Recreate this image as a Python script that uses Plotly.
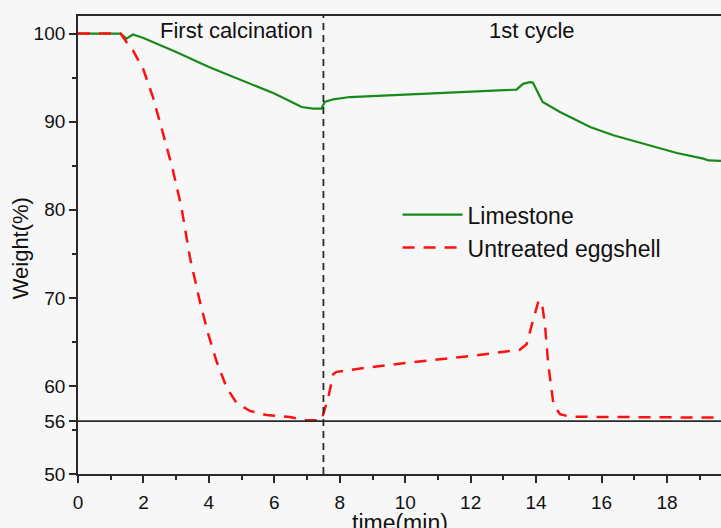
import plotly.graph_objects as go

# Limestone (green solid)
lime_t = [0, 1.3, 1.48, 1.68, 2.0, 3.0, 4.0, 5.0, 6.0, 6.73, 6.83, 7.19, 7.44, 7.54, 7.8, 8.31, 8.61,
          10.0, 12.0, 13.4, 13.6, 13.81, 13.9, 14.2, 14.73, 15.65, 16.36, 17.28, 18.3, 19.11, 19.27, 19.65]
lime_w = [100, 100, 99.43, 99.9, 99.5, 97.9, 96.2, 94.7, 93.2, 91.86, 91.67, 91.49, 91.49, 92.24, 92.54, 92.8, 92.85,
          93.05, 93.35, 93.64, 94.3, 94.5, 94.45, 92.24, 91.1, 89.4, 88.46, 87.5, 86.45, 85.81, 85.6, 85.54]

# Untreated eggshell (red dashed)
egg_t = [0, 1.3, 1.48, 1.68, 1.99, 2.29, 2.6, 2.9, 3.16, 3.42, 3.72, 3.98, 4.23, 4.54, 4.84, 5.25, 5.76,
         6.47, 6.98, 7.44, 7.65, 7.8, 7.9, 8.56, 8.87, 10.0, 12.0, 13.5, 13.71, 13.9, 14.07, 14.17, 14.27,
         14.37, 14.53, 14.73, 15.04, 19.65]
egg_w = [100, 100, 99.05, 98.1, 96.0, 92.8, 88.65, 84.5, 80.3, 74.6, 69.65, 65.87, 62.84, 59.82, 58.1, 57.16, 56.7,
         56.48, 56.1, 56.1, 58.7, 61.33, 61.6, 61.97, 62.1, 62.6, 63.4, 64.1, 64.73, 67.37, 69.6, 69.6, 67.0,
         62.46, 57.9, 56.79, 56.5, 56.4]

x_ticks = [0, 2, 4, 6, 8, 10, 12, 14, 16, 18]
y_ticks = [50, 56, 60, 70, 80, 90, 100]
ref_weight = 56
switch_time = 7.5
stage_labels = ["First calcination", "1st cycle"]
stage_x = [4.83, 13.88]
x_title = "time(min)"
y_title = "Weight(%)"

FONT = "Liberation Sans, Arial, sans-serif"
AX = "#2a2a2a"

fig = go.Figure()
fig.add_trace(go.Scatter(x=lime_t, y=lime_w, mode="lines", name="Limestone",
                         line=dict(color="#178a17", width=2.2)))
fig.add_trace(go.Scatter(x=egg_t, y=egg_w, mode="lines", name="Untreated eggshell",
                         line=dict(color="#ff1010", width=2.5, dash="12px,9px")))

# reference lines
fig.add_shape(type="line", xref="paper", yref="y", x0=0, x1=1, y0=ref_weight, y1=ref_weight,
              line=dict(color=AX, width=1.8))
fig.add_shape(type="line", xref="x", yref="paper", x0=switch_time, x1=switch_time, y0=0, y1=1,
              line=dict(color=AX, width=1.8, dash="7px,5px"))

for lab, xv in zip(stage_labels, stage_x):
    fig.add_annotation(x=xv, y=100.3, xref="x", yref="y", text=lab, showarrow=False,
                       font=dict(family=FONT, size=22, color="#111"), yanchor="middle")

# axis titles
fig.add_annotation(x=0.5, y=-0.108, xref="paper", yref="paper", text=x_title, showarrow=False,
                   font=dict(family=FONT, size=23, color="#111"), xanchor="center", yanchor="middle")
fig.add_annotation(x=-0.090, y=0.493, xref="paper", yref="paper", text=y_title, showarrow=False,
                   textangle=-90, font=dict(family=FONT, size=22, color="#111"),
                   xanchor="center", yanchor="middle")

fig.update_layout(
    width=721, height=528,
    margin=dict(l=78, r=0, t=16, b=54, autoexpand=False),
    paper_bgcolor="#f7f7f7", plot_bgcolor="#f7f7f7",
    font=dict(family=FONT, color="#111"),
    showlegend=True,
    legend=dict(x=0.497, y=0.530, xanchor="left", yanchor="middle",
                bgcolor="rgba(0,0,0,0)", font=dict(family=FONT, size=23, color="#111"),
                itemwidth=60, tracegroupgap=0),
)
fig.update_xaxes(range=[0, 19.65], tickmode="array", tickvals=x_ticks, ticks="outside", ticklen=7, tickwidth=1.5,
                 tickcolor=AX, showline=True, linecolor=AX, linewidth=1.8, mirror=True, showgrid=False,
                 zeroline=False, tickfont=dict(family=FONT, size=19, color="#111"), ticklabelstandoff=3,
                 automargin=False,
                 minor=dict(tickvals=[1, 3, 5, 7, 9, 11, 13, 15, 17, 19], ticks="outside", ticklen=4,
                            tickcolor=AX, tickwidth=1.5, showgrid=False))
fig.update_yaxes(range=[50, 102], tickmode="array", tickvals=y_ticks, ticks="outside", ticklen=7, tickwidth=1.5,
                 tickcolor=AX, showline=True, linecolor=AX, linewidth=1.8, mirror=False, showgrid=False,
                 zeroline=False, tickfont=dict(family=FONT, size=19, color="#111"), automargin=False,
                 minor=dict(tickvals=[55, 65, 75, 85, 95], ticks="outside", ticklen=4,
                            tickcolor=AX, tickwidth=1.5, showgrid=False))

fig.write_html("out.html")
